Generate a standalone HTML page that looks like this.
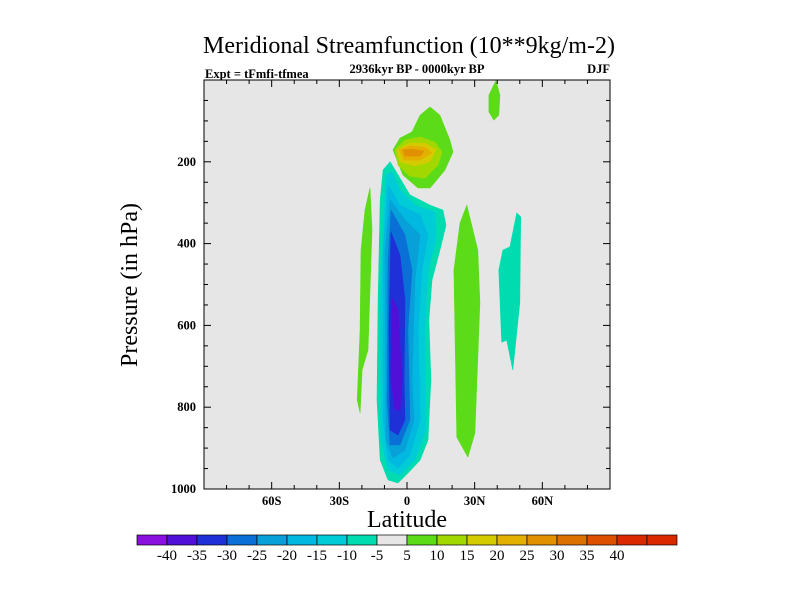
<!DOCTYPE html>
<html><head><meta charset="utf-8"><style>
body{margin:0;background:#fff}
svg{display:block;font-family:"Liberation Serif",serif}
</style></head><body>
<svg width="800" height="600" viewBox="0 0 800 600">
<text x="409" y="53" font-size="24" text-anchor="middle">Meridional Streamfunction (10**9kg/m-2)</text>
<text x="205" y="78" font-size="12.5" font-weight="bold">Expt = tFmfi-tfmea</text>
<text x="417" y="73" font-size="12.5" font-weight="bold" text-anchor="middle">2936kyr BP - 0000kyr BP</text>
<text x="610" y="73" font-size="12.5" font-weight="bold" text-anchor="end">DJF</text>
<rect x="204" y="80" width="406" height="409" fill="#e6e6e6"/>
<g id="contours"></g>
<g id="axes"></g>
<rect x="204" y="80" width="406" height="409" fill="none" stroke="#000" stroke-width="1"/>
<text transform="translate(137,285) rotate(-90)" font-size="24" text-anchor="middle">Pressure (in hPa)</text>
<text x="407" y="527" font-size="24" text-anchor="middle">Latitude</text>
<g id="cbar"></g>
</svg>
<script>
const latTicks=[-60,-30,0,30,60];
const latLabels=["60S","30S","0","30N","60N"];
const pTicks=[200,400,600,800,1000];
const cbarLabels=["-40","-35","-30","-25","-20","-15","-10","-5","5","10","15","20","25","30","35","40"];
const cbarColors=["#8a10e0","#5010d8","#2030d8","#0a70d8","#08a0d8","#00b8e0","#00ccd8","#00dcb0","#e6e6e6","#5cdc18","#a0d800","#d4cc00","#e4b000","#e09000","#dc7000","#dc5000","#dc2800","#dc2800"];
const posOuter=[[-6.2,171],[-3.1,142],[2.2,127],[5.8,86],[10.2,66],[14.6,86],[19,147],[20.4,176],[16.8,220],[10.2,264],[4.9,264],[-1.8,232]];
const pos10=[[-5.3,171],[-0.9,147],[5.8,139],[12.4,152],[15.5,176],[13.7,208],[8,240],[1.3,235],[-4,208]];
const pos15=[[-4.4,171],[1.3,154],[8,154],[12.8,171],[10.2,200],[3.5,210],[-3.1,200]];
const pos20=[[-3.5,171],[1.3,161],[8,164],[11.1,178],[5.8,196],[-1.3,196]];
const pos25=[[-1.8,171],[2.2,169],[7.5,174],[5.8,186],[-0.9,186]];
const topGreen=[[39.4,2],[41.2,37],[40.7,86],[38.5,98],[36.3,78],[36.3,37]];
const leftGreen=[[-16.4,264],[-15.5,367],[-17.3,660],[-19.9,709],[-20.8,814],[-22.1,782],[-20.8,611],[-20.4,416],[-18.6,318]];
const rightGreen=[[26.5,306],[31.4,416],[32.3,545],[30.1,863],[27,922],[22.1,873],[20.8,465],[23.5,350]];
const rightTeal=[[48.7,325],[50.4,335],[50,545],[46.9,709],[44.2,636],[42,641],[40.7,465],[42.5,416],[45.6,408]];
const neg5=[[-10.6,220],[-7.5,200],[-4,232],[1.3,281],[10.2,306],[15.9,318],[17.3,355],[14.6,416],[11.1,489],[9.7,587],[10.6,733],[9.3,880],[5.8,929],[0.4,961],[-4,985],[-8.4,978],[-11.9,929],[-13.3,782],[-12.8,538],[-11.9,293]];
const neg10=[[-9.3,232],[-6.6,225],[-3.1,269],[3.5,306],[12.4,323],[12.8,391],[9.3,465],[8,611],[8.4,856],[3.5,929],[-3.1,966],[-8.4,954],[-11.5,880],[-11.9,538]];
const neg15=[[-8.4,257],[-3.1,306],[5.8,330],[9.3,379],[6.6,465],[4.9,611],[5.8,831],[1.3,917],[-4,949],[-8.4,929],[-10.6,831],[-10.6,416]];
const neg20=[[-7.5,293],[-0.9,342],[5.8,379],[3.5,489],[2.2,733],[3.1,831],[-0.9,905],[-6.2,924],[-9.3,880],[-9.7,416]];
const neg25=[[-7.1,318],[-0.9,379],[2.2,465],[0.4,611],[1.3,831],[-3.1,892],[-7.5,892],[-8.8,782],[-8.4,440]];
const neg30=[[-7.1,372],[-3.1,428],[-0.9,538],[-1.3,733],[-0.9,831],[-4,868],[-7.5,856],[-8,611]];
const neg35=[[-6.6,533],[-4,562],[-2.2,733],[-3.1,807],[-5.3,807],[-7.1,733]];
const regions=[
 ["neg-5",neg5,"#00dcb0"],["neg-10",neg10,"#00ccd8"],["neg-15",neg15,"#00b8e0"],["neg-20",neg20,"#08a0d8"],
 ["neg-25",neg25,"#0a70d8"],["neg-30",neg30,"#2030d8"],["neg-35",neg35,"#5010d8"],
 ["pos-5",posOuter,"#5cdc18"],["pos-10",pos10,"#a0d800"],["pos-15",pos15,"#d4cc00"],["pos-20",pos20,"#e4b000"],["pos-25",pos25,"#e09000"],
 ["top-green",topGreen,"#5cdc18"],["left-green",leftGreen,"#5cdc18"],["right-green",rightGreen,"#5cdc18"],["right-teal",rightTeal,"#00dcb0"]];
const NS="http://www.w3.org/2000/svg";
const X0=204,X1=610,Y0=80,Y1=489;
const xs=lat=>X0+(lat+90)/180*(X1-X0);
const ys=p=>Y0+p/1000*(Y1-Y0);
function mk(tag,parent,attrs){const e=document.createElementNS(NS,tag);for(const k in attrs)e.setAttribute(k,attrs[k]);parent.appendChild(e);return e;}
const cg=document.getElementById('contours');
regions.forEach(r=>{
 const pg=mk('polygon',cg,{points:r[1].map(q=>xs(q[0]).toFixed(1)+","+ys(q[1]).toFixed(1)).join(" "),fill:r[2],'stroke':r[2],'stroke-width':'0.6','stroke-linejoin':'round'});
 
 
});
const ag=document.getElementById('axes');
for(let lat=-90;lat<=90;lat+=10){
 const x=xs(lat),major=lat%30===0,L=major?7:4;
 mk('line',ag,{x1:x,x2:x,y1:Y1,y2:Y1-L,stroke:'#000'});
 mk('line',ag,{x1:x,x2:x,y1:Y0,y2:Y0+L,stroke:'#000'});
}
for(let p=0;p<=1000;p+=50){
 const y=ys(p),major=p%200===0,L=major?7:4;
 mk('line',ag,{x1:X0,x2:X0+L,y1:y,y2:y,stroke:'#000'});
 mk('line',ag,{x1:X1,x2:X1-L,y1:y,y2:y,stroke:'#000'});
}
latTicks.forEach((v,i)=>{
 const t=mk('text',ag,{x:xs(v),y:505,'font-size':'12.5','font-weight':'bold','text-anchor':'middle'});t.textContent=latLabels[i];
 
 
});
pTicks.forEach(v=>{
 const t=mk('text',ag,{x:196,y:ys(v)+4,'font-size':'12.5','font-weight':'bold','text-anchor':'end'});t.textContent=v;
 
 
});
const cb=document.getElementById('cbar');
const bw=30,bx=137;
for(let i=0;i<18;i++){
 const r=mk('rect',cb,{x:bx+i*bw,y:535,width:bw,height:10,fill:cbarColors[i],stroke:'#000','stroke-width':'0.7'});
 
 
}
cbarLabels.forEach((s,i)=>{
 const t=mk('text',cb,{x:bx+(i+1)*bw,y:560,'font-size':'15','text-anchor':'middle'});t.textContent=s;
 
 
});
</script>
</body></html>
